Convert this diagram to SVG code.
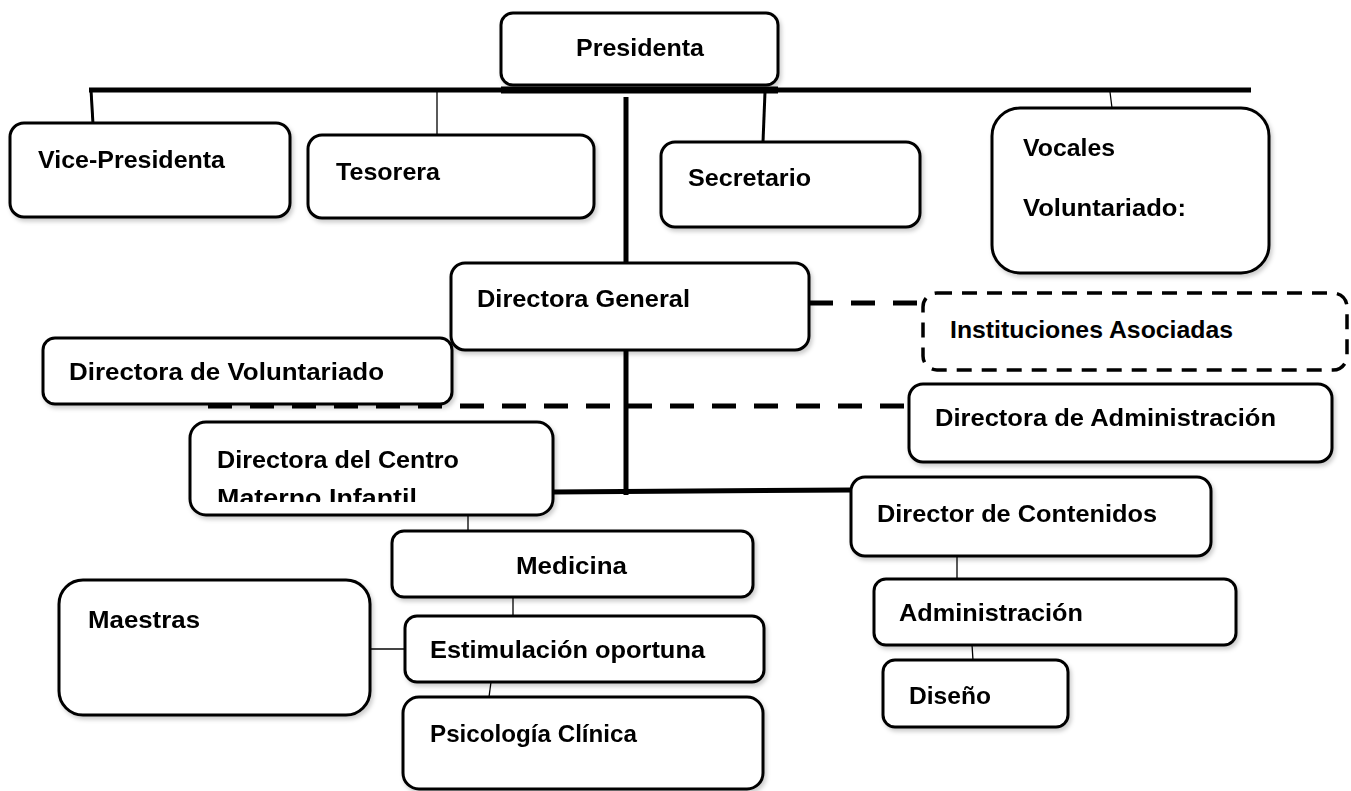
<svg xmlns="http://www.w3.org/2000/svg" width="1351" height="791" viewBox="0 0 1351 791">
<defs>
<style>
.box{fill:#fff;stroke:#000;stroke-width:3}
.dbox{fill:#fff;stroke:#000;stroke-width:3.5;stroke-dasharray:15 10}
.t{font-family:"Liberation Sans",Arial,sans-serif;font-weight:bold;font-size:24px;fill:#000}
.thick{stroke:#000;stroke-width:5;fill:none}
.med{stroke:#000;stroke-width:3;fill:none}
.thin{stroke:#000;stroke-width:1.3;fill:none}
.dash{stroke:#000;stroke-width:5;stroke-dasharray:24 18;fill:none}
</style>
<filter id="sh" x="-5%" y="-5%" width="115%" height="125%">
<feDropShadow dx="2" dy="3" stdDeviation="2" flood-color="#000" flood-opacity="0.2"/>
</filter>
<clipPath id="clipC"><rect x="190" y="422" width="363" height="80"/></clipPath>
</defs>
<rect width="1351" height="791" fill="#fff"/>
<g id="connectors">
<line class="thick" x1="89" y1="90" x2="1251" y2="90"/>
<line x1="501" y1="90" x2="778" y2="90" stroke="#000" stroke-width="7"/>
<line class="med" x1="91" y1="90" x2="93" y2="124" stroke-width="3.5"/>
<line class="thin" x1="437" y1="92" x2="437" y2="135"/>
<line class="med" x1="765" y1="92" x2="763" y2="142"/>
<line class="thin" x1="1110" y1="92" x2="1112" y2="108"/>
<line class="thick" x1="626" y1="97" x2="626" y2="495"/>
<line class="dash" x1="809" y1="303" x2="923" y2="303"/>
<line class="dash" x1="208" y1="406" x2="909" y2="406"/>
<line class="thick" x1="553" y1="492" x2="851" y2="490"/>
<line class="thin" x1="468" y1="515" x2="468" y2="531"/>
<line class="thin" x1="513" y1="593" x2="513" y2="620"/>
<line x1="370" y1="649" x2="405" y2="649" stroke="#444" stroke-width="2"/>
<line class="thin" x1="491" y1="682" x2="489" y2="697" stroke-width="1.5"/>
<line class="thin" x1="957" y1="556" x2="957" y2="579" stroke-width="1.5"/>
<line class="thin" x1="972" y1="645" x2="973" y2="660" stroke-width="1.5"/>
</g>
<g id="presidenta" filter="url(#sh)"><rect class="box" x="501" y="13" width="277" height="72" rx="12"/><text class="t" x="576" y="56" textLength="128" lengthAdjust="spacingAndGlyphs">Presidenta</text></g>
<g id="vicepresidenta" filter="url(#sh)"><rect class="box" x="10" y="123" width="280" height="94" rx="14"/><text class="t" x="38" y="168" textLength="187" lengthAdjust="spacingAndGlyphs">Vice-Presidenta</text></g>
<g id="tesorera" filter="url(#sh)"><rect class="box" x="308" y="135" width="286" height="83" rx="14"/><text class="t" x="336" y="180" textLength="104" lengthAdjust="spacingAndGlyphs">Tesorera</text></g>
<g id="secretario" filter="url(#sh)"><rect class="box" x="661" y="142" width="259" height="85" rx="14"/><text class="t" x="688" y="186" textLength="123" lengthAdjust="spacingAndGlyphs">Secretario</text></g>
<g id="vocales" filter="url(#sh)"><rect class="box" x="992" y="108" width="277" height="165" rx="28"/><text class="t" x="1023" y="156" textLength="92" lengthAdjust="spacingAndGlyphs">Vocales</text><text class="t" x="1023" y="216" textLength="163" lengthAdjust="spacingAndGlyphs">Voluntariado:</text></g>
<g id="directora-general" filter="url(#sh)"><rect class="box" x="451" y="263" width="358" height="87" rx="14"/><text class="t" x="477" y="307" textLength="213" lengthAdjust="spacingAndGlyphs">Directora General</text></g>
<g id="directora-voluntariado" filter="url(#sh)"><rect class="box" x="43" y="338" width="409" height="66" rx="12"/><text class="t" x="69" y="380" textLength="315" lengthAdjust="spacingAndGlyphs">Directora de Voluntariado</text></g>
<g id="instituciones"><rect class="dbox" x="923" y="293" width="424" height="77" rx="14"/><text class="t" x="950" y="338" textLength="283" lengthAdjust="spacingAndGlyphs">Instituciones Asociadas</text></g>
<g id="directora-administracion" filter="url(#sh)"><rect class="box" x="909" y="384" width="423" height="78" rx="14"/><text class="t" x="935" y="426" textLength="341" lengthAdjust="spacingAndGlyphs">Directora de Administración</text></g>
<g id="directora-centro" filter="url(#sh)"><rect class="box" x="190" y="422" width="363" height="93" rx="16"/><text class="t" x="217" y="468" textLength="242" lengthAdjust="spacingAndGlyphs">Directora del Centro</text><text class="t" x="217" y="506" textLength="200" lengthAdjust="spacingAndGlyphs" clip-path="url(#clipC)">Materno Infantil</text></g>
<g id="director-contenidos" filter="url(#sh)"><rect class="box" x="851" y="477" width="360" height="79" rx="14"/><text class="t" x="877" y="522" textLength="280" lengthAdjust="spacingAndGlyphs">Director de Contenidos</text></g>
<g id="medicina" filter="url(#sh)"><rect class="box" x="392" y="531" width="361" height="66" rx="12"/><text class="t" x="516" y="574" textLength="111" lengthAdjust="spacingAndGlyphs">Medicina</text></g>
<g id="maestras" filter="url(#sh)"><rect class="box" x="59" y="580" width="311" height="135" rx="24"/><text class="t" x="88" y="628" textLength="112" lengthAdjust="spacingAndGlyphs">Maestras</text></g>
<g id="estimulacion" filter="url(#sh)"><rect class="box" x="405" y="616" width="359" height="66" rx="12"/><text class="t" x="430" y="658" textLength="275" lengthAdjust="spacingAndGlyphs">Estimulación oportuna</text></g>
<g id="psicologia" filter="url(#sh)"><rect class="box" x="403" y="697" width="360" height="92" rx="16"/><text class="t" x="430" y="742" textLength="207" lengthAdjust="spacingAndGlyphs">Psicología Clínica</text></g>
<g id="administracion" filter="url(#sh)"><rect class="box" x="874" y="579" width="362" height="66" rx="12"/><text class="t" x="899" y="621" textLength="184" lengthAdjust="spacingAndGlyphs">Administración</text></g>
<g id="diseno" filter="url(#sh)"><rect class="box" x="883" y="660" width="185" height="67" rx="12"/><text class="t" x="909" y="704" textLength="82" lengthAdjust="spacingAndGlyphs">Diseño</text></g>
</svg>
